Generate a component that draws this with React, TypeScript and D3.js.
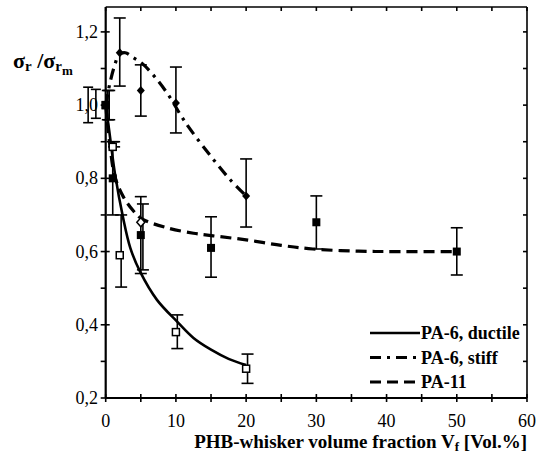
import React from "react";
import * as d3 from "d3";

// ---------- data ----------
const xTicks = [0, 10, 20, 30, 40, 50, 60];
const xMinorTicks = [0, 5, 10, 15, 20, 25, 30, 35, 40, 45, 50, 55, 60];
const yTicks = [0.2, 0.4, 0.6, 0.8, 1.0, 1.2];
const yMinorTicks = [0.2, 0.3, 0.4, 0.5, 0.6, 0.7, 0.8, 0.9, 1.0, 1.1, 1.2];

// measured points: [x, value, low, high]
const ductilePoints: [number, number, number, number][] = [
  [0, 1.0, 1.0, 1.0],
  [1, 0.886, 0.886, 0.9],
  [2, 0.59, 0.503, 0.7],
  [10, 0.38, 0.335, 0.427],
  [20, 0.28, 0.24, 0.32],
];
const ductileDiamond: [number, number, number, number][] = [[5, 0.68, 0.54, 0.75]];
const stiffPoints: [number, number, number, number][] = [
  [0, 1.0, 0.96, 1.04],
  [2, 1.143, 1.052, 1.238],
  [5, 1.04, 0.97, 1.11],
  [10, 1.006, 0.924, 1.104],
  [20, 0.752, 0.667, 0.853],
];
const pa11Points: [number, number, number, number][] = [
  [0, 1.0, 0.96, 1.04],
  [1, 0.8, 0.7, 0.9],
  [5, 0.645, 0.55, 0.73],
  [15, 0.61, 0.53, 0.695],
  [30, 0.68, 0.607, 0.752],
  [50, 0.6, 0.536, 0.665],
];
// error bars of the reference values drawn just left of the axis: [x, low, high]
const zeroErrorBars: [number, number, number][] = [
  [-2.5, 0.952, 1.049],
  [-1.4, 0.964, 1.043],
];

// fitted curves [x, value]
const ductileFit: [number, number][] = [
  [0, 1.0], [0.5, 0.93], [1.3, 0.815], [2.5, 0.69], [3.5, 0.61], [4.9, 0.545],
  [7.3, 0.468], [10.2, 0.408], [12.5, 0.364], [15, 0.332], [17.5, 0.307], [20, 0.29],
];
const stiffFit: [number, number][] = [
  [0, 1.0], [0.6, 1.06], [1.3, 1.11], [1.9, 1.138], [2.8, 1.143], [3.9, 1.13],
  [5.3, 1.112], [7.3, 1.07], [9.2, 1.02], [10.6, 0.975], [12, 0.935], [14.9, 0.862],
  [17.7, 0.797], [20, 0.752],
];
const pa11Fit: [number, number][] = [
  [0, 1.0], [0.6, 0.89], [1.3, 0.805], [2.5, 0.75], [3.9, 0.712], [5.1, 0.69],
  [8.7, 0.665], [12.5, 0.65], [15.3, 0.643], [20, 0.632], [25, 0.617], [29.5, 0.607],
  [36, 0.601], [42, 0.6], [50, 0.6],
];

const legendItems = [
  { label: "PA-6, ductile", dash: "none" },
  { label: "PA-6, stiff", dash: "11,6,3,6" },
  { label: "PA-11", dash: "11,6" },
];

// ---------- layout ----------
const W = 537;
const H = 456;
const left = 105.7;
const right = 527;
const top = 7;
const bottom = 398;
const serif = "'Liberation Serif', 'Times New Roman', serif";

export default function App() {
  const x = d3.scaleLinear().domain([0, 60]).range([left, right]);
  const y = d3.scaleLinear().domain([0.2, 1.268]).range([bottom, top]);
  const line = d3
    .line<[number, number]>()
    .x((d) => x(d[0]))
    .y((d) => y(d[1]))
    .curve(d3.curveCatmullRom.alpha(0.5));

  const errBar = (xv: number, lo: number, hi: number, key: string, cap = 6) => (
    <g key={key} stroke="#000" strokeWidth={1.6}>
      <line x1={x(xv)} x2={x(xv)} y1={y(lo)} y2={y(hi)} />
      <line x1={x(xv) - cap} x2={x(xv) + cap} y1={y(lo)} y2={y(lo)} />
      <line x1={x(xv) - cap} x2={x(xv) + cap} y1={y(hi)} y2={y(hi)} />
    </g>
  );

  const diamond = (cx: number, cy: number) =>
    `M${cx},${cy - 4.5}L${cx + 4},${cy}L${cx},${cy + 4.5}L${cx - 4},${cy}Z`;

  return (
    <svg
      width={W}
      height={H}
      style={{ position: "absolute", left: 0, top: 0, background: "#fff" }}
      fontFamily={serif}
    >
      <rect x={0} y={0} width={W} height={H} fill="#fff" />

      {/* frame */}
      <line x1={left} x2={left} y1={top} y2={bottom} stroke="#000" strokeWidth={2.2} />
      <line x1={left} x2={right} y1={bottom} y2={bottom} stroke="#000" strokeWidth={2.2} />
      <line x1={left} x2={right} y1={top} y2={top} stroke="#000" strokeWidth={1.6} />
      <line x1={right} x2={right} y1={top} y2={bottom} stroke="#000" strokeWidth={1.6} />

      {/* x ticks */}
      {xMinorTicks.map((t) => (
        <g key={"xt" + t} stroke="#000" strokeWidth={1.6}>
          <line x1={x(t)} x2={x(t)} y1={bottom - 4} y2={bottom + 4} />
          <line x1={x(t)} x2={x(t)} y1={top} y2={top + 4} />
        </g>
      ))}
      {xTicks.map((t) => (
        <text key={"xl" + t} x={x(t)} y={427} fontSize={18} textAnchor="middle">
          {t}
        </text>
      ))}

      {/* y ticks */}
      {yMinorTicks.map((t) => (
        <g key={"yt" + t} stroke="#000" strokeWidth={1.6}>
          <line x1={left - 5} x2={left + (yTicks.some((m) => Math.abs(m - t) < 1e-6) ? 4 : 0)} y1={y(t)} y2={y(t)} />
          <line x1={right - 4} x2={right} y1={y(t)} y2={y(t)} />
        </g>
      ))}
      {yTicks.map((t) => (
        <text key={"yl" + t} x={98} y={y(t) + 6} fontSize={18} textAnchor="end">
          {t.toFixed(1).replace(".", ",")}
        </text>
      ))}

      {/* fitted curves */}
      <path d={line(ductileFit) || ""} fill="none" stroke="#000" strokeWidth={2.6} />
      <path d={line(stiffFit) || ""} fill="none" stroke="#000" strokeWidth={3.2} strokeDasharray="11,6,3,6" />
      <path d={line(pa11Fit) || ""} fill="none" stroke="#000" strokeWidth={3.2} strokeDasharray="11,6" />

      {/* error bars */}
      {zeroErrorBars.map((d, i) => errBar(d[0], d[1], d[2], "z" + i, 5))}
      {ductilePoints.filter((d) => d[3] > d[2]).map((d, i) => errBar(d[0] + 0.2, d[2], d[3], "de" + i))}
      {ductileDiamond.map((d, i) => errBar(d[0], d[2], d[3], "dd" + i))}
      {stiffPoints.filter((d) => d[3] > d[2]).map((d, i) => errBar(d[0] + (d[0] === 0 ? 0.3 : 0), d[2], d[3], "se" + i))}
      {pa11Points.filter((d) => d[3] > d[2]).map((d, i) => errBar(d[0] + (d[0] === 0 ? 0.5 : 0) + (d[0] === 5 ? 0.3 : 0), d[2], d[3], "pe" + i))}

      {/* markers */}
      {ductilePoints.map((d, i) => (
        <rect key={"dm" + i} x={x(d[0]) - 3.5} y={y(d[1]) - 3.5} width={7} height={7} fill="#fff" stroke="#000" strokeWidth={1.5} />
      ))}
      {ductileDiamond.map((d, i) => (
        <path key={"ddm" + i} d={diamond(x(d[0]), y(d[1]))} fill="#fff" stroke="#000" strokeWidth={1.5} />
      ))}
      {stiffPoints.map((d, i) => (
        <path key={"sm" + i} d={diamond(x(d[0]), y(d[1]))} fill="#000" />
      ))}
      {pa11Points.map((d, i) => (
        <rect key={"pm" + i} x={x(d[0]) - 4} y={y(d[1]) - 4} width={8} height={8} fill="#000" />
      ))}

      {/* legend */}
      {legendItems.map((it, i) => (
        <g key={"lg" + i}>
          <line x1={370} x2={420} y1={333 + i * 24.5} y2={333 + i * 24.5} stroke="#000" strokeWidth={it.dash === "none" ? 2.6 : 3.2} strokeDasharray={it.dash} />
          <text x={421} y={339 + i * 24.5} fontSize={18} fontWeight="bold">
            {it.label}
          </text>
        </g>
      ))}

      {/* axis titles */}
      <text x={527} y={448} fontSize={19} fontWeight="bold" textAnchor="end">
        PHB-whisker volume fraction V
        <tspan fontSize={13} dy={3}>f</tspan>
        <tspan dy={-3}> [Vol.%]</tspan>
      </text>
      <text x={13} y={68} fontSize={22} fontWeight="bold">
        σ<tspan fontSize={15} dy={3}>r</tspan>
        <tspan dy={-3}> /σ</tspan>
        <tspan fontSize={15} dy={3}>r</tspan>
        <tspan fontSize={13} dy={4}>m</tspan>
      </text>
    </svg>
  );
}
